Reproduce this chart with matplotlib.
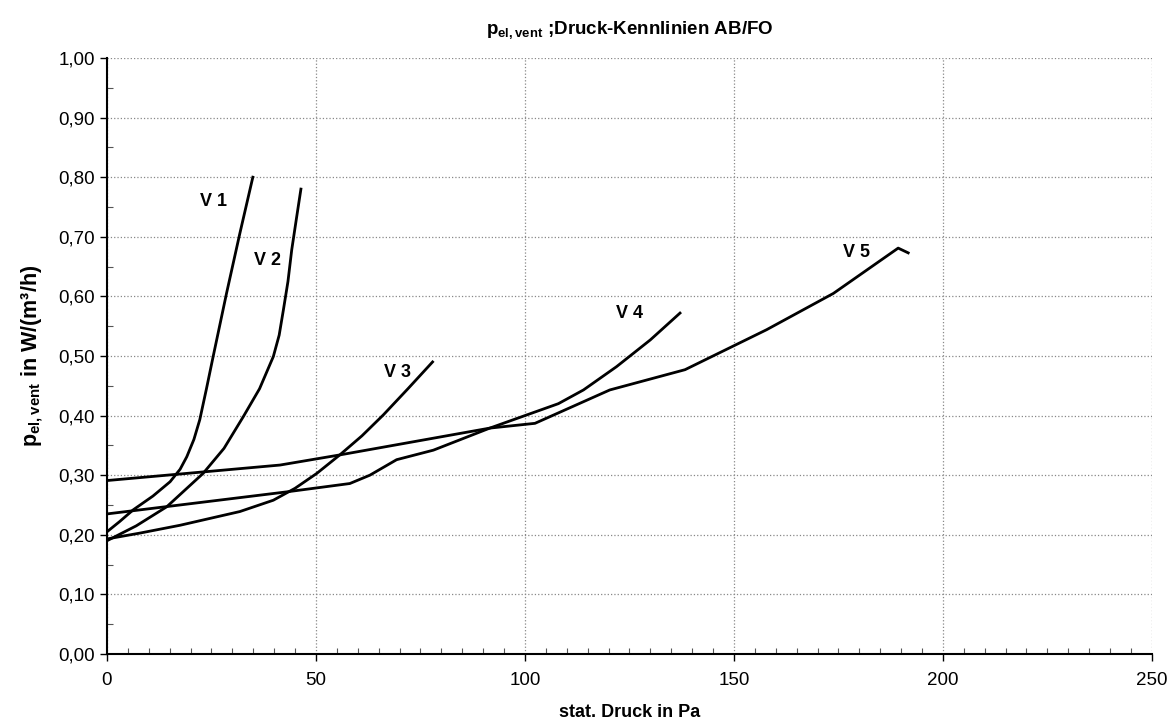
import matplotlib.pyplot as plt
from matplotlib.ticker import MultipleLocator, FuncFormatter

plt.rcParams['font.family'] = ['Liberation Sans', 'DejaVu Sans']
plt.rcParams['mathtext.fontset'] = 'custom'
plt.rcParams['mathtext.rm'] = 'Liberation Sans:bold'
plt.rcParams['mathtext.bf'] = 'Liberation Sans:bold'
plt.rcParams['mathtext.it'] = 'Liberation Sans:bold'

# curves (stat. Druck in Pa, p_el,vent in W/(m3/h))
v1_x = [0, 3, 6.3, 11, 15.1, 17.5, 19.1, 20.8, 22.2, 23.8, 25.4, 28.6, 31.8, 34.9]
v1_y = [0.205, 0.222, 0.242, 0.265, 0.289, 0.310, 0.331, 0.360, 0.393, 0.445, 0.499, 0.605, 0.706, 0.800]

v2_x = [0, 7, 14.3, 23.0, 28, 32.6, 36.5, 39.8, 41.2, 42.2, 43.3, 44.2, 45.4, 46.4]
v2_y = [0.190, 0.215, 0.247, 0.303, 0.345, 0.398, 0.445, 0.499, 0.535, 0.577, 0.625, 0.678, 0.734, 0.780]

v3_x = [0, 8, 17.5, 31.8, 39.8, 45, 50.2, 55.7, 61, 66.1, 72, 77.9]
v3_y = [0.193, 0.203, 0.216, 0.239, 0.258, 0.278, 0.303, 0.334, 0.366, 0.401, 0.445, 0.490]

v4_x = [0, 43.0, 58.1, 62.9, 69.3, 78.1, 91.6, 100.4, 108, 114, 121.9, 130, 137.1]
v4_y = [0.235, 0.272, 0.286, 0.300, 0.326, 0.342, 0.379, 0.401, 0.420, 0.443, 0.482, 0.527, 0.572]

v5_x = [0, 41.4, 55.7, 91.6, 102.4, 120.3, 138.3, 157.8, 173.8, 189.3, 191.7]
v5_y = [0.291, 0.317, 0.334, 0.379, 0.387, 0.443, 0.477, 0.544, 0.605, 0.681, 0.673]

labels = ['V 1', 'V 2', 'V 3', 'V 4', 'V 5']
label_x = [25.4, 38.3, 69.6, 124.9, 179.4]
label_y = [0.76, 0.66, 0.473, 0.571, 0.673]

fig = plt.figure(figsize=(11.73, 7.22), dpi=100)
ax = fig.add_axes([0.0912, 0.0942, 0.8908, 0.8255])

for xs, ys in [(v1_x, v1_y), (v2_x, v2_y), (v3_x, v3_y), (v4_x, v4_y), (v5_x, v5_y)]:
    ax.plot(xs, ys, color='black', lw=2.0, solid_joinstyle='round', zorder=3)

for t, lx, ly in zip(labels, label_x, label_y):
    ax.text(lx, ly, t, fontsize=13, fontweight='bold', ha='center', va='center')

ax.set_xlim(0, 250)
ax.set_ylim(0, 1.0)
ax.xaxis.set_major_locator(MultipleLocator(50))
ax.xaxis.set_minor_locator(MultipleLocator(5))
ax.yaxis.set_major_locator(MultipleLocator(0.1))
ax.yaxis.set_minor_locator(MultipleLocator(0.05))
ax.yaxis.set_major_formatter(FuncFormatter(lambda v, p: f'{v:.2f}'.replace('.', ',')))
ax.xaxis.set_major_formatter(FuncFormatter(lambda v, p: f'{v:.0f}'))

ax.tick_params(which='major', direction='out', length=5, width=1, labelsize=13.5, color='black')
ax.tick_params(which='minor', direction='in', length=4, width=0.8, color='#555555')
ax.tick_params(axis='x', which='major', pad=8)

ax.grid(True, which='major', color='#888888', linestyle=':', linewidth=0.9)
ax.spines['top'].set_visible(False)
ax.spines['right'].set_visible(False)
ax.spines['left'].set_linewidth(1.5)
ax.spines['bottom'].set_linewidth(1.5)

ax.set_title(r'$\mathbf{p}_{\mathbf{el,vent}}$ ;Druck-Kennlinien AB/FO',
             fontsize=13.5, fontweight='bold', pad=17)
ax.set_xlabel('stat. Druck in Pa', fontsize=13, fontweight='bold', labelpad=11)
ax.set_ylabel(r'$\mathbf{p}_{\mathbf{el,vent}}$ in W/(m³/h)', fontsize=15.5, fontweight='bold', labelpad=10)

fig.savefig('out.png', dpi=100)
